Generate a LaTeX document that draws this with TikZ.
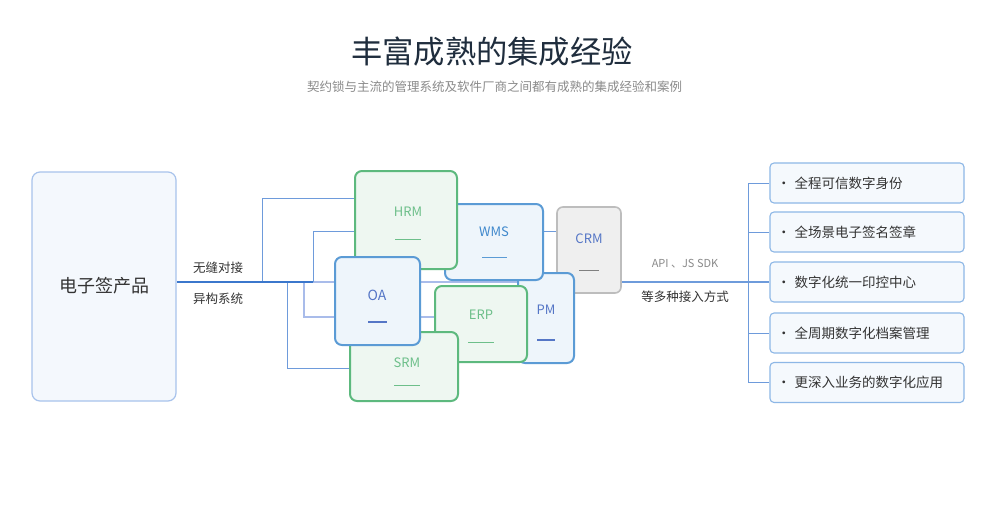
\documentclass[tikz,border=0pt]{standalone}
\usepackage{fontspec}
\setmainfont{Noto Sans CJK SC}
\pgfdeclarelayer{background}
\pgfsetlayers{background,main}
\definecolor{navy}{HTML}{1F2D3D}
\definecolor{subgray}{HTML}{8A8A8A}
\definecolor{txtgray}{HTML}{333333}
\definecolor{bblue}{HTML}{5B9BD5}
\definecolor{bfill}{HTML}{EEF5FB}
\definecolor{ggreen}{HTML}{5DB97E}
\definecolor{gfill}{HTML}{EEF7F1}
\definecolor{gtext}{HTML}{6DBF8A}
\definecolor{cgray}{HTML}{BDBDBD}
\definecolor{cfill}{HTML}{EFEFEF}
\definecolor{indigo}{HTML}{5576C6}
\definecolor{wblue}{HTML}{3F88CC}
\definecolor{mainline}{HTML}{3B77CC}
\definecolor{branch}{HTML}{6E9BDB}
\definecolor{lightbr}{HTML}{A9BCEA}
\definecolor{lborder}{HTML}{A8C3EC}
\definecolor{lfill}{HTML}{F4F8FD}
\definecolor{rborder}{HTML}{8DB7E6}
\definecolor{rfill}{HTML}{F5F9FD}
\tikzset{
  x=1pt, y=-1pt,
  sysblue/.style={draw=bblue, fill=bfill, line width=2pt, rounded corners=7pt, inner sep=0pt},
  sysgreen/.style={draw=ggreen, fill=gfill, line width=2pt, rounded corners=7pt, inner sep=0pt},
  sysgray/.style={draw=cgray, fill=cfill, line width=1.6pt, rounded corners=6pt, inner sep=0pt},
  lbl/.style={font=\fontsize{13}{15}\selectfont, inner sep=0pt},
  conn/.style={draw=branch, line width=1pt},
  connlight/.style={draw=lightbr, line width=1.2pt},
  featbox/.style={draw=rborder, fill=rfill, line width=1.1pt, rounded corners=4pt, minimum width=194pt, minimum height=40pt, inner sep=0pt},
  feat/.style={font=\fontsize{13.5}{15}\selectfont, text=txtgray, anchor=west, inner sep=0pt},
  smalllbl/.style={font=\fontsize{12.5}{14}\selectfont, text=txtgray, inner sep=0pt},
}
\begin{document}
\begin{tikzpicture}
\begin{pgfonlayer}{background}
\fill[white] (0,0) rectangle (1000,504);
\end{pgfonlayer}
\useasboundingbox (0,0) rectangle (1000,504);

% title
\node[text=navy, font=\fontsize{31.3}{35}\selectfont, inner sep=0pt] (title) at (492,52) {丰富成熟的集成经验};
\node[text=subgray, font=\fontsize{12.5}{14}\selectfont, inner sep=0pt] (sub) at (494.5,87) {契约锁与主流的管理系统及软件厂商之间都有成熟的集成经验和案例};

% left box
\node[draw=lborder, fill=lfill, line width=1.2pt, rounded corners=8pt, minimum width=144pt, minimum height=229pt, inner sep=0pt] (prod) at (104,286.5) {};
\node[font=\fontsize{18}{20}\selectfont, text=txtgray, inner sep=0pt] (prodt) at (104,286) {电子签产品};

% coordinates on the main line
\coordinate (p0) at (176,282);
\coordinate (j1) at (262,282);
\coordinate (j2) at (287,282);
\coordinate (j3) at (304,282);
\coordinate (j4) at (313,282);
\coordinate (bus) at (748,282);

% right feature boxes
\node[featbox] (f1) at (867,183) {};
\node[featbox] (f2) at (867,232) {};
\node[featbox] (f3) at (867,282) {};
\node[featbox] (f4) at (867,333) {};
\node[featbox] (f5) at (867,382.5) {};
\node[feat] (t1) at (777,183) {·\hspace{4pt}全程可信数字身份};
\node[feat] (t2) at (777,232) {·\hspace{4pt}全场景电子签名签章};
\node[feat] (t3) at (777,282) {·\hspace{4pt}数字化统一印控中心};
\node[feat] (t4) at (777,333) {·\hspace{4pt}全周期数字化档案管理};
\node[feat] (t5) at (777,382.5) {·\hspace{4pt}更深入业务的数字化应用};

% system boxes, back to front
\node[sysgray] (crm) at (589,250) [minimum width=64pt, minimum height=86pt] {};
\node[lbl, text=indigo] (crmt) at (589,239) {CRM};
\draw[draw=gray, line width=1pt] (579,270) -- (599,270);

\node[sysblue] (pm) at (546,318) [minimum width=56pt, minimum height=90pt] {};
\node[lbl, text=indigo] (pmt) at (546,310) {PM};
\draw[draw=indigo, line width=2pt] (537,340) -- (555,340);

\node[sysblue] (wms) at (494,242) [minimum width=98pt, minimum height=76pt] {};
\node[lbl, text=wblue] (wmst) at (494,232) {WMS};
\draw[draw=bblue, line width=1pt] (482,257) -- (507,257);

\node[sysgreen] (hrm) at (406,220) [minimum width=102pt, minimum height=98pt] {};
\node[lbl, text=gtext] (hrmt) at (408,212) {HRM};
\draw[draw=gtext, line width=1pt] (395,239) -- (421,239);

\node[sysgreen] (erp) at (481,324) [minimum width=92pt, minimum height=76pt] {};
\node[lbl, text=gtext] (erpt) at (481,315) {ERP};
\draw[draw=gtext, line width=1pt] (468,342) -- (494,342);

\node[sysgreen] (srm) at (404,366.5) [minimum width=108pt, minimum height=69pt] {};
\node[lbl, text=gtext] (srmt) at (407,363) {SRM};
\draw[draw=gtext, line width=1pt] (394,385) -- (420,385);

\node[sysblue] (oa) at (377.5,301) [minimum width=85pt, minimum height=88pt] {};
\node[lbl, font=\fontsize{14}{16}\selectfont, text=indigo] (oat) at (377,295) {OA};
\draw[draw=indigo, line width=2pt] (368,322) -- (387,322);

% connectors, under the boxes
\begin{pgfonlayer}{background}
\draw[connlight] (j4) -- (bus);
\draw[draw=branch, line width=1.2pt] (crm.east |- bus) -- (bus) -- (f3.west);
\draw[conn] (f1.west) -- (f1.west -| bus) -- (f5.west -| bus) -- (f5.west);
\draw[conn] (f2.west -| bus) -- (f2.west);
\draw[conn] (f4.west -| bus) -- (f4.west);
\draw[conn] (j1) -- (262,198) -- (hrm.west |- 0,198);
\draw[conn] (j4) -- (313,231) -- (crm.west |- 0,231);
\draw[connlight] (j3) -- (304,317) -- (erp.west |- 0,317);
\draw[conn] (j2) -- (287,368) -- (srm.west |- 0,368);
\draw[draw=mainline, line width=2.6pt] (prod.east |- p0) -- (j4);
\end{pgfonlayer}

% line labels
\node[smalllbl] (l1) at (218,268) {无缝对接};
\node[smalllbl] (l2) at (218,299) {异构系统};
\node[text=subgray, font=\fontsize{11}{13}\selectfont, inner sep=0pt] (l3) at (685,264) {API 、JS SDK};
\node[smalllbl] (l4) at (685,297) {等多种接入方式};
\end{tikzpicture}
\end{document}
